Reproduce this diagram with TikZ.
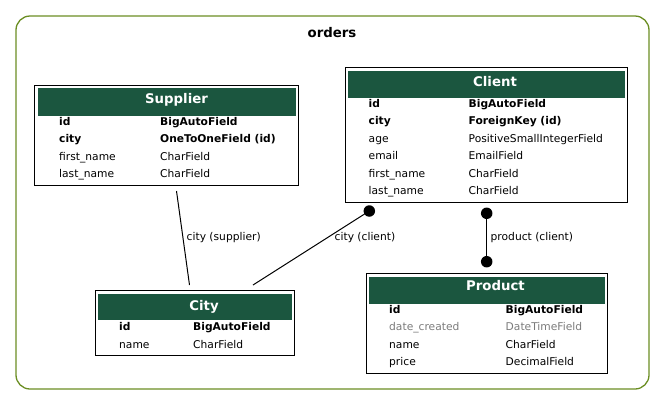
\documentclass[tikz,border=0pt]{standalone}
\usepackage{fontspec}
\setmainfont{DejaVu Sans}
\definecolor{hdrgreen}{HTML}{1B563F}
\definecolor{clusterline}{HTML}{6B8E23}
\definecolor{nullgray}{HTML}{7B7B7B}

\begin{document}
\begin{tikzpicture}[x=1pt,y=1pt,
  tbl/.style={draw=black, line width=1pt, inner sep=0pt, outer sep=0pt},
  hdr/.style={fill=hdrgreen, inner sep=0pt, outer sep=0pt, anchor=north west},
  ttl/.style={text=white, inner sep=0pt, anchor=base, font=\bfseries\fontsize{13.3}{15}\selectfont},
  fld/.style={inner sep=0pt, anchor=base west, font=\fontsize{10.7}{12}\selectfont},
  pk/.style={fld, font=\bfseries\fontsize{10.7}{12}\selectfont},
  nul/.style={fld, text=nullgray},
  rel/.style={inner sep=0pt, anchor=base west, font=\fontsize{10.7}{12}\selectfont},
  dot/.style={circle, fill=black, inner sep=0pt, minimum size=11.5}]
\useasboundingbox (0,0) rectangle (665,-405);
% cluster
\draw [clusterline, line width=1.3pt, rounded corners=14pt] (16,-16) rectangle (649,-389);
\node [inner sep=0pt, anchor=base, font=\bfseries\fontsize{13.3}{15}\selectfont] (orders) at (332,-37) {orders};
% Supplier
\node [tbl, minimum width=264, minimum height=100.5] (supplier) at (166.5,-135.25) {};
\node [hdr, minimum width=258, minimum height=27.5] (supplierhead) at (37.5,-88) {};
\node [ttl] (suppliertitle) at (176.5,-103.5) {Supplier};
\node [pk] (s1) at (59,-125) {id};
\node [pk] at (160,-125) {BigAutoField};
\node [pk] (s2) at (59,-142.5) {city};
\node [pk] at (160,-142.5) {OneToOneField (id)};
\node [fld] (s3) at (59,-160) {first\_name};
\node [fld] at (160,-160) {CharField};
\node [fld] (s4) at (59,-177.5) {last\_name};
\node [fld] at (160,-177.5) {CharField};
% Client
\node [tbl, minimum width=282.5, minimum height=134.5] (client) at (486.25,-134.75) {};
\node [hdr, minimum width=277, minimum height=27] (clienthead) at (348,-70.5) {};
\node [ttl] (clienttitle) at (495,-86) {Client};
\node [pk] (c1) at (368.5,-107) {id};
\node [pk] at (468.5,-107) {BigAutoField};
\node [pk] (c2) at (368.5,-124.5) {city};
\node [pk] at (468.5,-124.5) {ForeignKey (id)};
\node [fld] (c3) at (368.5,-142) {age};
\node [fld] at (468.5,-142) {PositiveSmallIntegerField};
\node [fld] (c4) at (368.5,-159.5) {email};
\node [fld] at (468.5,-159.5) {EmailField};
\node [fld] (c5) at (368.5,-177) {first\_name};
\node [fld] at (468.5,-177) {CharField};
\node [fld] (c6) at (368.5,-194.5) {last\_name};
\node [fld] at (468.5,-194.5) {CharField};
% City
\node [tbl, minimum width=199, minimum height=65] (city) at (194.5,-323) {};
\node [hdr, minimum width=193.5, minimum height=26.5] (cityhead) at (98,-293.5) {};
\node [ttl] (citytitle) at (204,-310) {City};
\node [pk] (t1) at (119,-330.7) {id};
\node [pk] at (193,-330.7) {BigAutoField};
\node [fld] (t2) at (119,-348.2) {name};
\node [fld] at (193,-348.2) {CharField};
% Product
\node [tbl, minimum width=241, minimum height=100] (product) at (486.5,-323.5) {};
\node [hdr, minimum width=235.5, minimum height=27] (producthead) at (369,-276.5) {};
\node [ttl] (producttitle) at (495.5,-290.7) {Product};
\node [pk] (p1) at (389,-313.3) {id};
\node [pk] at (505.5,-313.3) {BigAutoField};
\node [nul] (p2) at (389,-330.8) {date\_created};
\node [nul] at (505.5,-330.8) {DateTimeField};
\node [fld] (p3) at (389,-348.3) {name};
\node [fld] at (505.5,-348.3) {CharField};
\node [fld] (p4) at (389,-365.8) {price};
\node [fld] at (505.5,-365.8) {DecimalField};
% relations
\coordinate (sup1) at (176.5,-191);
\coordinate (sup2) at (189.5,-285);
\draw [black, line width=1pt] (sup1) -- (sup2);
\node [rel] at (186.5,-240.5) {city (supplier)};
\coordinate (cli1) at (253,-285);
\node [dot] (clidot) at (369.3,-211) {};
\draw [black, line width=1pt] (cli1) -- (clidot.center);
\node [rel] at (334.5,-240.5) {city (client)};
\node [dot] (prod1) at (486.7,-213.3) {};
\node [dot] (prod2) at (486.7,-261.7) {};
\draw [black, line width=1pt] (prod1.center) -- (prod2.center);
\node [rel] at (490.5,-240.5) {product (client)};
\end{tikzpicture}
\end{document}
